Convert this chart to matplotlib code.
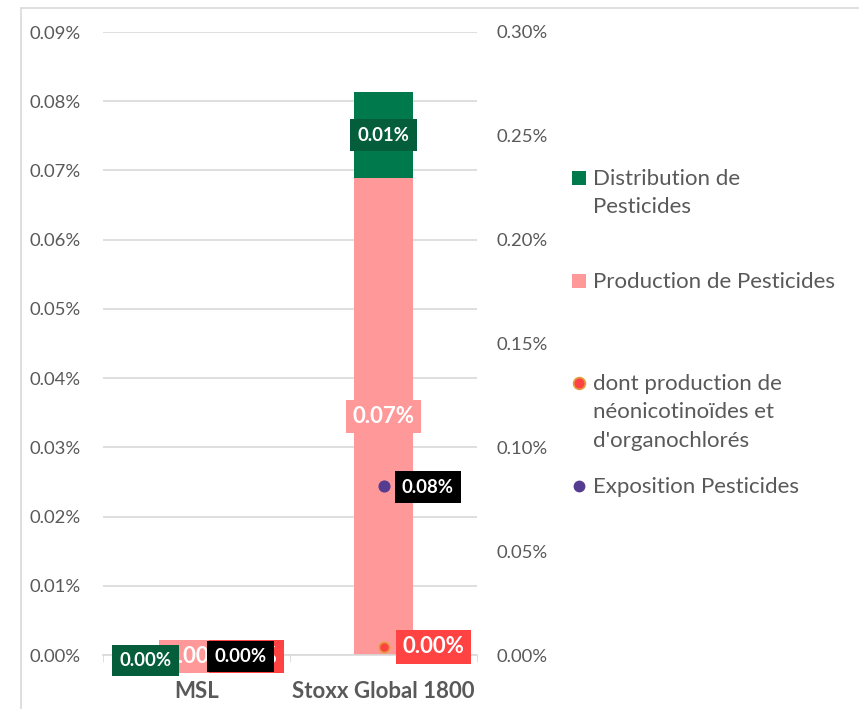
import matplotlib
matplotlib.use("Agg")
import matplotlib.pyplot as plt
from matplotlib.patches import Rectangle
from matplotlib.lines import Line2D

plt.rcParams['font.family'] = ['Lato', 'DejaVu Sans']

# values in percent
categories = ["MSL", "Stoxx Global 1800"]
production = [0.0, 0.0689]
distribution = [0.0, 0.0124]
neonic = [0.0, 0.0039]        # right axis
exposition = [0.0, 0.0814]    # right axis

left_ticks = [0.00, 0.01, 0.02, 0.03, 0.04, 0.05, 0.06, 0.07, 0.08, 0.09]
right_ticks = [0.00, 0.05, 0.10, 0.15, 0.20, 0.25, 0.30]

c_green = "#007A4D"
c_green_lab = "#045D3B"
c_pink = "#FF9999"
c_red = "#FF4343"
c_purple = "#553C8E"
c_text = "#595959"
c_grid = "#D9D9D9"

W, H = 859, 709
fig = plt.figure(figsize=(W / 100, H / 100), dpi=100)

def fx(px):
    return px / W

def fy(py):
    return 1 - py / H

# outer chart frame
fig.patches.append(Rectangle((fx(21), fy(1000)), 2, fy(8) - fy(1000), transform=fig.transFigure,
                             fill=False, edgecolor=c_grid, lw=1.2))

ax = fig.add_axes([fx(103), fy(655), fx(477) - fx(103), fy(32) - fy(655)])
ax2 = ax.twinx()

x = list(range(len(categories)))
w = 0.315
ax.bar(x, production, width=w, color=c_pink, zorder=2)
ax.bar(x, distribution, width=w, bottom=production, color=c_green, zorder=2)

ax.set_xlim(-0.5, 1.5)
ax.set_ylim(0, 0.09)
ax.set_yticks(left_ticks)
ax.set_yticklabels([f"{t:.2f}%" for t in left_ticks])
ax.set_xticks(x)
ax.set_xticklabels(categories, fontweight="bold", fontsize=16, color=c_text)
ax.set_xticks([-0.5, 0.5, 1.5], minor=True)
ax.tick_params(axis="x", which="major", length=0, pad=19)
ax.tick_params(axis="x", which="minor", length=5, color=c_grid, direction="out")
ax.tick_params(axis="y", length=0, labelsize=13.3, labelcolor=c_text, pad=16)
ax.yaxis.grid(True, color=c_grid, lw=1.2, zorder=0)
ax.set_axisbelow(True)
for s in ["top", "left", "right"]:
    ax.spines[s].set_visible(False)
ax.spines["bottom"].set_color(c_grid)
ax.spines["bottom"].set_linewidth(1.2)

ax2.set_ylim(0, 0.30)
ax2.set_yticks(right_ticks)
ax2.set_yticklabels([f"{t:.2f}%" for t in right_ticks])
ax2.tick_params(axis="y", length=0, labelsize=13.3, labelcolor=c_text, pad=14)
for s in ax2.spines.values():
    s.set_visible(False)

ax2.scatter(x, neonic, s=55, color=c_red, edgecolor="#E0A040", linewidth=1.2, zorder=3)
ax2.scatter(x, exposition, s=60, color=c_purple, zorder=3)

def box(col, pad=0.4):
    return dict(boxstyle=f"square,pad={pad}", facecolor=col, edgecolor="none")

# stacked bar labels (placed on ax2 so they sit above the points)
for i in x:
    mid_p = production[i] / 2
    mid_d = production[i] + distribution[i] / 2
    if i == 0:
        off_p, off_d = (0, -1), (-37, -4)
    else:
        off_p, off_d = (0, 0), (0, 0)
    ax2.annotate(f"{production[i]:.2f}%", (i, mid_p), xycoords=ax.transData, xytext=off_p,
                 textcoords="offset points", ha="center", va="center", fontsize=16,
                 fontweight="bold", color="white", bbox=box(c_pink, 0.28), zorder=5,
                 annotation_clip=False)
    ax2.annotate(f"{distribution[i]:.2f}%", (i, mid_d), xycoords=ax.transData, xytext=off_d,
                 textcoords="offset points", ha="center", va="center", fontsize=13.3,
                 fontweight="bold", color="white", bbox=box(c_green_lab, 0.4), zorder=7,
                 annotation_clip=False)

# point labels
for i in x:
    ax2.annotate(f"{neonic[i]:.2f}%", (i, neonic[i]), xytext=(36, 0 if i else -1), textcoords="offset points",
                 ha="center", va="center", fontsize=16, fontweight="bold", color="white",
                 bbox=box(c_red, 0.28), zorder=6, annotation_clip=False)
    ax2.annotate(f"{exposition[i]:.2f}%", (i, exposition[i]), xytext=(32, -1), textcoords="offset points",
                 ha="center", va="center", fontsize=13.3, fontweight="bold", color="white",
                 bbox=box("black", 0.4), zorder=8, annotation_clip=False)

# legend drawn by hand
leg = [
    ("s", c_green, None, "Distribution de\nPesticides", 178),
    ("s", c_pink, None, "Production de Pesticides", 281),
    ("o", c_red, "#E0A040", "dont production de\nnéonicotinoïdes et\nd'organochlorés", 383),
    ("o", c_purple, None, "Exposition Pesticides", 486),
]
for m, col, ec, label, py in leg:
    ms = 10 if m == "s" else 8.5
    fig.add_artist(Line2D([fx(579)], [fy(py)], marker=m, markersize=ms, color=col,
                          markeredgecolor=ec if ec else col, markeredgewidth=1.2 if ec else 0,
                          linestyle="none", transform=fig.transFigure))
    fig.text(fx(593), fy(py - 9), label, fontsize=16, color=c_text, ha="left", va="top",
             linespacing=1.52, transform=fig.transFigure)

fig.savefig("out.png", dpi=100)
